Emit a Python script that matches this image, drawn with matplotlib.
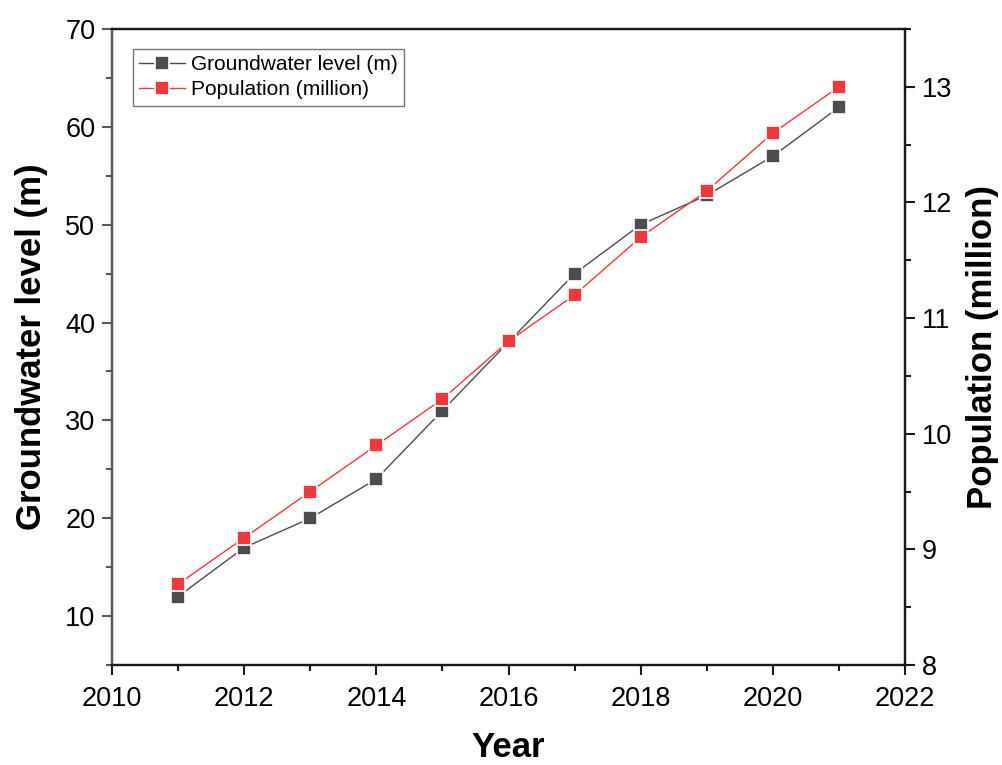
import numpy as np
import matplotlib
matplotlib.use('Agg')
import matplotlib.pyplot as plt
from matplotlib.ticker import MultipleLocator

plt.rcParams['font.family'] = ['Liberation Sans', 'DejaVu Sans']

years = [2011, 2012, 2013, 2014, 2015, 2016, 2017, 2018, 2019, 2020, 2021]
groundwater = [12, 17, 20, 24, 31, 38, 45, 50, 53, 57, 62]
population = [8.7, 9.1, 9.5, 9.9, 10.3, 10.8, 11.2, 11.7, 12.1, 12.6, 13.0]

GREY = '#4d4d4d'
RED = '#ee3a3d'

fig = plt.figure(figsize=(10.02, 7.65), dpi=100)
ax = fig.add_axes([0.1118, 0.1307, 0.7914, 0.8314])
ax2 = ax.twinx()

l1, = ax.plot(years, groundwater, color=GREY, lw=1.0, marker='s', ms=10,
              mfc=GREY, mec='white', mew=1.2, label='Groundwater level (m)')
l2, = ax2.plot(years, population, color=RED, lw=1.0, marker='s', ms=10,
               mfc=RED, mec='white', mew=1.2, label='Population (million)')

ax.set_xlim(2010, 2022)
ax.set_ylim(5, 70)
ax2.set_ylim(8, 13.5)

ax.xaxis.set_major_locator(MultipleLocator(2))
ax.xaxis.set_minor_locator(MultipleLocator(1))
ax.yaxis.set_major_locator(MultipleLocator(10))
ax.yaxis.set_minor_locator(MultipleLocator(5))
ax2.yaxis.set_major_locator(MultipleLocator(1))
ax2.yaxis.set_minor_locator(MultipleLocator(0.5))

for a in (ax, ax2):
    for s in a.spines.values():
        s.set_linewidth(1.6)
        s.set_color('#1a1a1a')
    a.tick_params(which='major', length=7, width=1.5, labelsize=19.5, color='#1a1a1a')
    a.tick_params(which='minor', length=4, width=1.5, color='#1a1a1a')

# left axis is drawn in grey
ax2.spines['left'].set_color('#5a5a5a')
ax.tick_params(axis='y', which='both', color='#5a5a5a')

ax.tick_params(axis='x', pad=8)
ax.tick_params(axis='y', pad=5)
ax2.tick_params(axis='y', pad=5)

ax.set_xlabel('Year', fontsize=25, fontweight='bold', labelpad=14)
ax.set_ylabel('Groundwater level (m)', fontsize=25, fontweight='bold', labelpad=12)
ax2.set_ylabel('Population (million)', fontsize=25, fontweight='bold', labelpad=10)

leg = ax2.legend([l1, l2], [l1.get_label(), l2.get_label()], loc='upper left',
                 bbox_to_anchor=(0.0265, 0.9686), borderaxespad=0, fontsize=15,
                 frameon=True, fancybox=False, handlelength=2.2, handletextpad=0.3,
                 borderpad=0.3, labelspacing=0.3)
leg.get_frame().set_edgecolor('#555555')
leg.get_frame().set_linewidth(1.0)

fig.savefig('out.png', dpi=100)
